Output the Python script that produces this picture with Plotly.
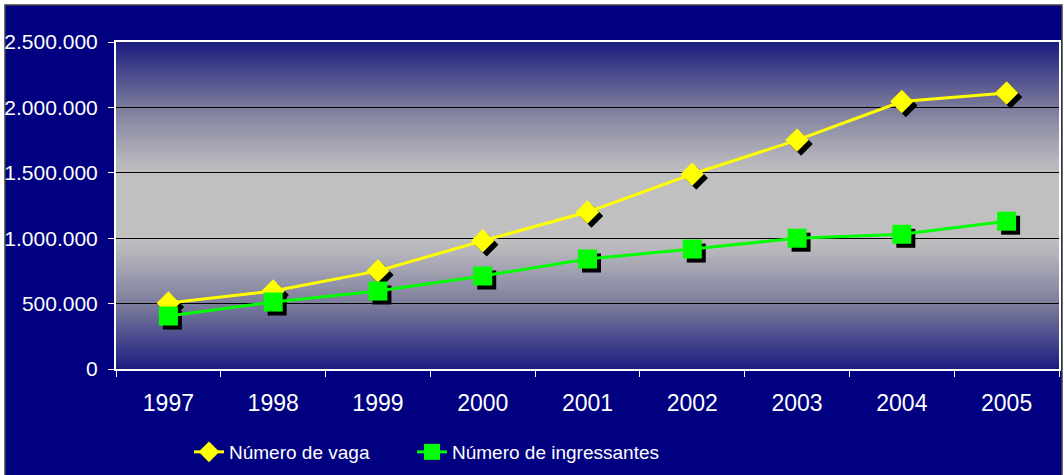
import numpy as np
import plotly.graph_objects as go

years = ["1997", "1998", "1999", "2000", "2001", "2002", "2003", "2004", "2005"]
vagas = [505000, 596000, 750000, 980000, 1200000, 1490000, 1750000, 2045000, 2110000]
ingressantes = [405000, 512000, 596000, 711000, 841000, 917000, 1000000, 1030000, 1130000]
name_vagas = "Número de vaga"
name_ingr = "Número de ingressantes"

NAVY = "#000080"
FONT = "Liberation Sans, Arial, sans-serif"

# geometry (pixels)
W, H = 1064, 475
ML, MR, MT, MB = 116, 1, 42, 102
PW = W - ML - MR      # 947
PH = H - MT - MB      # 331
SH = 4                # shadow offset px
xd_main = [0, (PW - SH) / PW]
yd_main = [SH / PH, 1]
xd_sh = [SH / PW, 1]
yd_sh = [0, (PH - SH) / PH]

fig = go.Figure()

# background gradient (styling only)
gy = np.linspace(0, 1, 201)
gz = 1 - np.abs(2 * gy - 1)
fig.add_trace(go.Heatmap(
    x=[0, 1], y=gy, z=[[v, v] for v in gz], xaxis="x", yaxis="y",
    colorscale=[[0, "#1c1c80"], [0.4, "#7c7c9c"], [0.7, "#b2b2ba"], [0.8, "#c0c0c0"], [1, "#c0c0c0"]],
    zmin=0, zmax=1, showscale=False, zsmooth="best", hoverinfo="skip"))

# shadows
fig.add_trace(go.Scatter(x=years, y=vagas, xaxis="x2", yaxis="y2", mode="markers",
                         marker=dict(symbol="diamond", size=18, color="black"),
                         showlegend=False, hoverinfo="skip"))
fig.add_trace(go.Scatter(x=years, y=ingressantes, xaxis="x2", yaxis="y2", mode="markers",
                         marker=dict(symbol="square", size=19, color="black"),
                         showlegend=False, hoverinfo="skip"))

# main series
fig.add_trace(go.Scatter(x=years, y=vagas, xaxis="x3", yaxis="y3", mode="lines+markers",
                         name=name_vagas, line=dict(color="#FFFF00", width=3),
                         marker=dict(symbol="diamond", size=18, color="#FFFF00"),
                         legend="legend"))
fig.add_trace(go.Scatter(x=years, y=ingressantes, xaxis="x3", yaxis="y3", mode="lines+markers",
                         name=name_ingr, line=dict(color="#00FF00", width=3),
                         marker=dict(symbol="square", size=19, color="#00FF00"),
                         legend="legend2"))

yr = [0, 2500000]
xr = [-0.5, len(years) - 0.5]

leg_common = dict(orientation="h", xanchor="left", yanchor="middle",
                  y=(H - MB - 452) / PH,
                  font=dict(size=19, color="white"), bgcolor="rgba(0,0,0,0)")

fig.update_layout(
    width=W, height=H,
    margin=dict(l=ML, r=MR, t=MT, b=MB),
    paper_bgcolor="white", plot_bgcolor="rgba(0,0,0,0)",
    separators=",.",
    font=dict(family=FONT, color="white", size=20),
    xaxis=dict(domain=xd_main, range=[0, 1], visible=False, fixedrange=True),
    yaxis=dict(domain=yd_main, range=[0, 1], visible=False, fixedrange=True),
    xaxis2=dict(domain=xd_sh, range=xr, type="category", visible=False, anchor="y2"),
    yaxis2=dict(domain=yd_sh, range=yr, visible=False, anchor="x2"),
    xaxis3=dict(domain=xd_main, range=xr, type="category", anchor="y3",
                showline=True, linecolor="white", linewidth=2, mirror=True,
                ticks="outside", tickson="boundaries", ticklen=6, tickcolor="white", tickwidth=1,
                showgrid=False, tickfont=dict(size=23, color="white"), ticklabelstandoff=12),
    yaxis3=dict(domain=yd_main, range=yr, anchor="x3", dtick=500000, tickformat=",",
                showline=True, linecolor="white", linewidth=2, mirror=True,
                ticks="outside", ticklen=6, tickcolor="white", tickwidth=1,
                showgrid=True, gridcolor="black", gridwidth=1, zeroline=False,
                tickfont=dict(size=21, color="white"), ticklabelstandoff=6),
    legend=dict(x=(189 - ML) / PW, **leg_common),
    legend2=dict(x=(412 - ML) / PW, **leg_common),
    shapes=[dict(type="rect", xref="paper", yref="paper", layer="below",
                 x0=(5 - ML) / PW, x1=(1062 - ML) / PW,
                 y0=(H - MB - 476) / PH, y1=(H - MB - 5) / PH,
                 fillcolor=NAVY, line=dict(color="#404040", width=1.5))],
)

fig.write_html("out.html", config={"displayModeBar": False},
               post_script="document.body.style.margin='0';document.body.style.padding='0';")
